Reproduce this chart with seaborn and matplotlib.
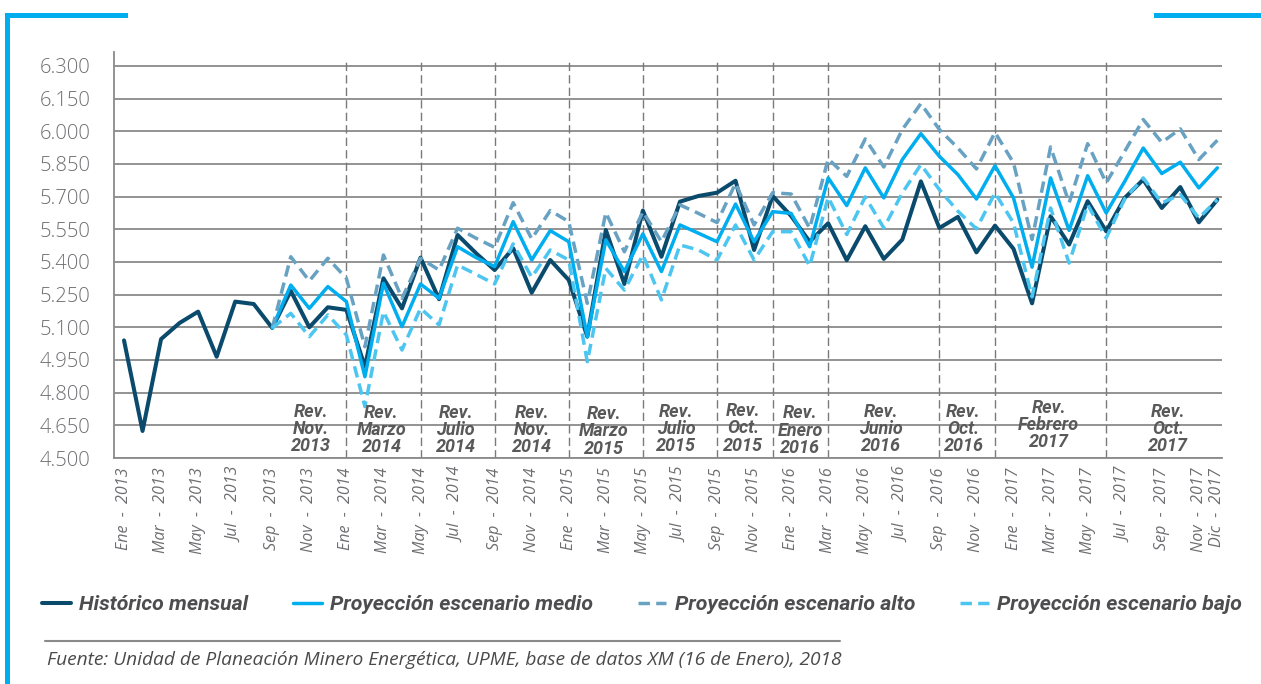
"""
Demanda mensual de energía: histórico y proyecciones por revisión (UPME).
"""

import matplotlib

matplotlib.use("Agg")

import numpy as np
import pandas as pd
import seaborn as sns
from matplotlib import pyplot as plt
from matplotlib.lines import Line2D
from matplotlib.patches import Rectangle
from matplotlib.ticker import FuncFormatter

NAN = np.nan

MESES = ["Ene", "Feb", "Mar", "Abr", "May", "Jun",
         "Jul", "Ago", "Sep", "Oct", "Nov", "Dic"]
ANIOS = [2013, 2014, 2015, 2016, 2017]

# GWh-mes, de Ene 2013 a Dic 2017
historico = [
    5040, 4624, 5046, 5120, 5172, 4965, 5218, 5207, 5097, 5267, 5100, 5192,
    5180, 4919, 5325, 5187, 5420, 5229, 5524, 5440, 5363, 5463, 5259, 5409,
    5317, 5057, 5547, 5299, 5636, 5424, 5677, 5703, 5718, 5773, 5455, 5703,
    5611, 5493, 5578, 5408, 5564, 5414, 5503, 5770, 5556, 5607, 5444, 5567,
    5460, 5210, 5610, 5480, 5679, 5541, 5694, 5778, 5648, 5744, 5582, 5686,
]
medio = [NAN] * 8 + [
    5097, 5294, 5187, 5287,
    5218, 4873, 5302, 5103, 5299, 5233, 5470, 5420, 5379, 5585, 5409, 5544,
    5493, 5057, 5501, 5356, 5529, 5356, 5570, 5532, 5493, 5666, 5493, 5631,
    5623, 5470, 5786, 5659, 5832, 5694, 5870, 5989, 5885, 5801, 5689, 5842,
    5694, 5376, 5786, 5545, 5796, 5625, 5770, 5923, 5806, 5858, 5740, 5832,
]
alto = [NAN] * 8 + [
    5097, 5424, 5313, 5417,
    5325, 5011, 5432, 5233, 5417, 5363, 5555, 5509, 5467, 5672, 5506, 5636,
    5585, 5210, 5627, 5447, 5631, 5493, 5662, 5623, 5581, 5761, 5570, 5718,
    5712, 5555, 5873, 5793, 5965, 5836, 6008, 6127, 6008, 5923, 5827, 5995,
    5855, 5503, 5928, 5671, 5943, 5763, 5908, 6054, 5949, 6011, 5870, 5959,
]
bajo = [NAN] * 8 + [
    5097, 5164, 5057, 5157,
    5065, 4736, 5172, 4996, 5187, 5111, 5386, 5343, 5299, 5483, 5330, 5455,
    5409, 4942, 5371, 5271, 5432, 5226, 5478, 5455, 5409, 5570, 5409, 5539,
    5539, 5382, 5697, 5526, 5699, 5556, 5717, 5847, 5732, 5633, 5552, 5717,
    5579, 5240, 5648, 5395, 5663, 5510, 5690, 5786, 5671, 5709, 5602, 5686,
]

SERIES = {
    "Histórico mensual": historico,
    "Proyección escenario medio": medio,
    "Proyección escenario alto": alto,
    "Proyección escenario bajo": bajo,
}

# meses (índice) donde empieza cada revisión
CORTES = [12, 16, 20, 24, 28, 32, 35, 38, 44, 47, 53]
REVISIONES = [
    "Rev.\nNov.\n2013", "Rev.\nMarzo\n2014", "Rev.\nJulio\n2014",
    "Rev.\nNov.\n2014", "Rev.\nMarzo\n2015", "Rev.\nJulio\n2015",
    "Rev.\nOct.\n2015", "Rev.\nEnero\n2016", "Rev.\nJunio\n2016",
    "Rev.\nOct.\n2016", "Rev.\nFebrero\n2017", "Rev.\nOct.\n2017",
]
REV_X = [10.1, 13.9, 17.9, 22.0, 25.9, 29.8, 33.4, 36.5, 40.85, 45.3, 49.9, 56.35]
REV_Y = [4633, 4629, 4629, 4629, 4622, 4633, 4636, 4625, 4633, 4633, 4651, 4633]

FUENTE = ("Fuente: Unidad de Planeación Minero Energética, UPME, "
          "base de datos XM (16 de Enero), 2018")

ESTILOS = {
    "Histórico mensual": dict(color="#0a4a6c", lw=2.9, ls="-"),
    "Proyección escenario medio": dict(color="#00aeef", lw=2.5, ls="-"),
    "Proyección escenario alto": dict(color="#68a2c2", lw=2.5, ls=(0, (3.3, 1.8))),
    "Proyección escenario bajo": dict(color="#4cc6f1", lw=2.5, ls=(0, (3.3, 1.8))),
}

GRIS = "#8a8a8a"
CIAN = "#00aeef"
W, H = 1261, 684


def etiquetas_mes():
    pos = list(range(0, 60, 2)) + [59]
    labels = [f"{MESES[p % 12]}  -  {ANIOS[p // 12]}" for p in pos]
    return pos, labels


def main():
    sns.set_style("white")
    plt.rcParams["font.family"] = ["Open Sans", "DejaVu Sans"]
    bold = ["Roboto", "DejaVu Sans"]

    fig = plt.figure(figsize=(W / 100, H / 100), dpi=100)
    ax = fig.add_axes([114 / W, 1 - 458 / H, (1222 - 114) / W, (458 - 52) / H])

    df = pd.DataFrame(SERIES)
    df["mes"] = np.arange(len(df))
    for nombre, st in ESTILOS.items():
        sub = df[["mes", nombre]].dropna()
        sns.lineplot(data=sub, x="mes", y=nombre, ax=ax, label=nombre,
                     color=st["color"], linewidth=st["lw"], linestyle=st["ls"],
                     zorder=3)

    ax.vlines(CORTES, 4500, 6337, colors="#7a7a7a", linestyles=(0, (6, 3)),
              lw=1.0, zorder=2)

    for txt, x, y in zip(REVISIONES, REV_X, REV_Y):
        ax.text(x, y, txt, ha="center", va="center", fontsize=13,
                fontweight="bold", fontstyle="italic", color="#595959",
                linespacing=0.95, family=bold, zorder=4)

    ax.set_xlim(-0.54, 59.25)
    ax.set_ylim(4500, 6364)
    pos, labels = etiquetas_mes()
    ax.set_xticks(pos, labels, rotation=90, fontsize=11.5, fontstyle="italic",
                  color="#6d6e71")
    ax.set_yticks(np.arange(4500, 6301, 150))
    ax.yaxis.set_major_formatter(
        FuncFormatter(lambda v, _: f"{v:,.0f}".replace(",", ".")))
    for lbl in ax.get_yticklabels():
        lbl.set_fontweight("light")
    ax.tick_params(axis="x", length=0, pad=7)
    ax.tick_params(axis="y", length=8, width=1.3, color=GRIS, pad=9,
                   labelsize=14.5, labelcolor="#6d6e71")
    ax.set_xlabel("")
    ax.set_ylabel("")
    ax.yaxis.grid(True, color=GRIS, lw=1.3)
    ax.set_axisbelow(True)
    for lado in ("top", "right"):
        ax.spines[lado].set_visible(False)
    for lado in ("left", "bottom"):
        ax.spines[lado].set_color(GRIS)
        ax.spines[lado].set_linewidth(1.3)

    handles, names = ax.get_legend_handles_labels()
    ax.get_legend().remove()
    fig.legend(handles, names, loc="center left",
               bbox_to_anchor=(42 / W, 1 - 605 / H), ncol=4, frameon=False,
               prop=dict(family=bold, weight="bold", style="italic", size=15.3),
               labelcolor="#4d4d4f", handlelength=1.35, handletextpad=0.4,
               columnspacing=2.1, borderpad=0, borderaxespad=0)

    # fuente y decoración
    fig.add_artist(Line2D([45 / W, 840 / W], [1 - 641 / H] * 2,
                          color=GRIS, lw=1.5))
    fig.text(47 / W, 1 - 660 / H, FUENTE, fontsize=13.8, fontstyle="italic",
             color="#4a4a4a", ha="left", va="center")
    for x0, y0, w, h in [(5, 13, 123, 5), (5, 13, 5, H - 13), (1154, 13, W - 1154, 5)]:
        fig.add_artist(Rectangle((x0 / W, 1 - (y0 + h) / H), w / W, h / H,
                                 transform=fig.transFigure, color=CIAN, lw=0))

    fig.savefig("out.png", dpi=100)
    plt.close(fig)


if __name__ == "__main__":
    main()
